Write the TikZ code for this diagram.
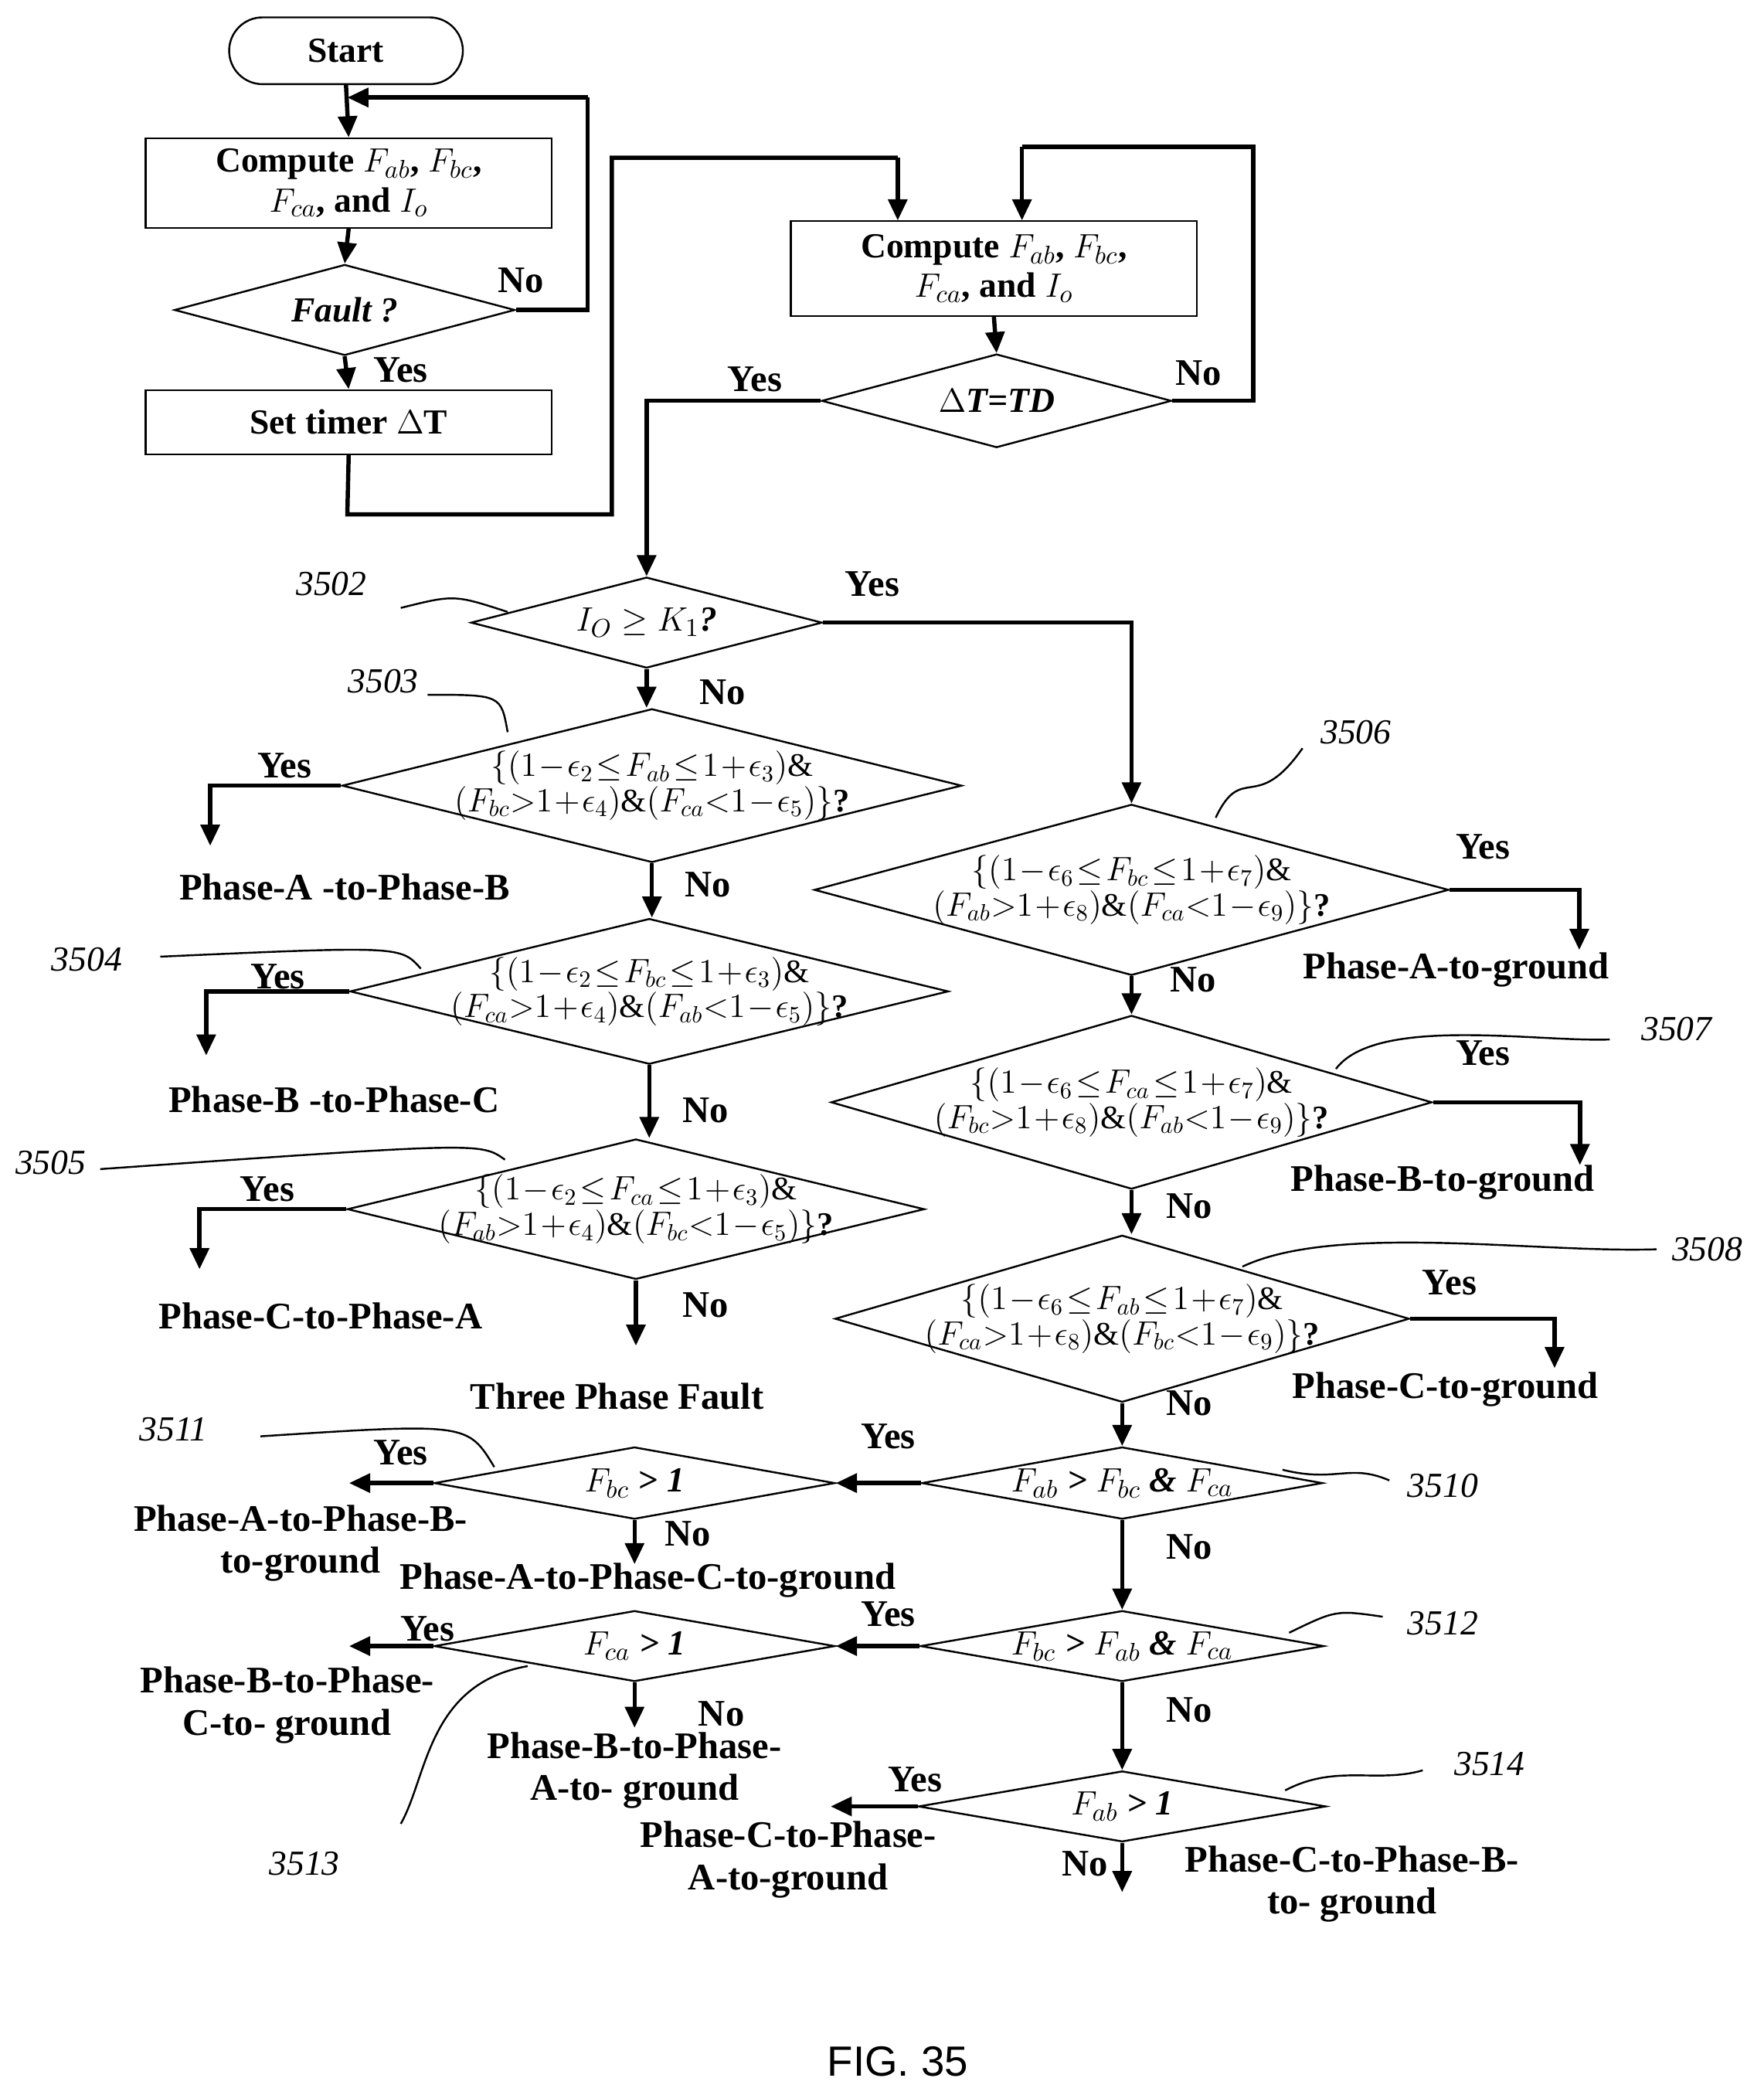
\documentclass[tikz,border=0pt]{standalone}
\usepackage{fontspec}
\setmainfont{Liberation Serif}
\newfontfamily\figfont{Liberation Sans}
\usetikzlibrary{shapes.geometric,arrows.meta}
\newcommand\tgtmath{\medmuskip=1mu\relax\thickmuskip=1.5mu\relax}
\begin{document}
\begin{tikzpicture}[x=0.02cm,y=-0.02cm,
  every node/.style={font=\fontsize{15}{17}\selectfont\bfseries},
  box/.style={draw,line width=0.8pt,inner sep=0pt},
  dia/.style={draw,diamond,line width=0.8pt,inner sep=0pt},
  ln/.style={line width=1.8pt},
  arr/.style={ln,-{Triangle[length=9pt,width=8pt]}},
  lab/.style={font=\fontsize{16}{18}\selectfont\bfseries},
  dt/.style={font=\fontsize{14}{15}\selectfont\bfseries,align=center,execute at begin node=\tgtmath},
  hw/.style={font=\fontsize{15}{17}\selectfont\itshape},
  lead/.style={line width=0.8pt}]
\useasboundingbox (0,0) rectangle (1320,1568);
% top left
\node[box,rounded corners=0.5cm,minimum width=3.5cm,minimum height=1cm] (start) at (259,38) {Start};
\node[box,minimum width=6.08cm,minimum height=1.34cm,align=center] (c1) at (261,137) {Compute $F_{ab}$, $F_{bc}$,\\ $F_{ca}$, and $I_o$};
\node[dia,minimum width=5.1cm,minimum height=1.36cm] (f) at (258,232) {};
\node at (f) {\itshape Fault ?};
\node[box,minimum width=6.08cm,minimum height=0.96cm] (st) at (261,316) {Set timer $\Delta$T};
\coordinate (lp1) at (440,73);
\coordinate (lp2) at (260,73);
\draw[arr] (start.south) -- (c1.north);
\draw[arr] (c1.south) -- (f.north);
\draw[arr] (f.south) -- (st.north);
\draw[ln] (f.east) -- (440,232) -- (lp1);
\draw[arr] (lp1) -- (lp2);
\node[lab] at (390,210) {No};
\node[lab] at (300,277) {Yes};
% second compute
\node[box,minimum width=6.08cm,minimum height=1.42cm,align=center] (c2) at (744,201) {Compute $F_{ab}$, $F_{bc}$,\\ $F_{ca}$, and $I_o$};
\draw[ln] (st.south) -- (260,385) -- (458,385) -- (458,118) -- (672,118);
\draw[arr] (672,118) -- (672,165);
\node[dia,minimum width=5.24cm,minimum height=1.4cm] (td) at (746,300) {};
\node at (td) {\itshape $\Delta$T=TD};
\draw[arr] (c2.south) -- (td.north);
\draw[ln] (td.east) -- (938,300) -- (938,110) -- (765,110);
\draw[arr] (765,110) -- (765,165);
\node[lab] at (897,279) {No};
\node[lab] at (565,284) {Yes};
% Io
\node[dia,minimum width=5.26cm,minimum height=1.36cm] (d2) at (484,466) {};
\node at (d2) {\itshape $I_O \geq K_1$?};
\draw[arr] (td.west) -| (d2.north);
\node[lab] at (653,437) {Yes};
% left column
\node[dia,minimum width=9.28cm,minimum height=2.3cm] (d3) at (488,588) {};
\node[dt] at (d3) {$\{(1-\epsilon_2 \le F_{ab} \le 1+\epsilon_3)\&$\\$(F_{bc}{>}1+\epsilon_4)\&(F_{ca}{<}1-\epsilon_5)\}$?};
\draw[arr] (d2.south) -- (d2.south |- d3.north);
\node[lab] at (541,518) {No};
\node[dia,minimum width=8.96cm,minimum height=2.18cm] (d4) at (486,742) {};
\node[dt] at (d4) {$\{(1-\epsilon_2 \le F_{bc} \le 1+\epsilon_3)\&$\\$(F_{ca}{>}1+\epsilon_4)\&(F_{ab}{<}1-\epsilon_5)\}$?};
\draw[arr] (d3.south) -- (d3.south |- d4.north);
\node[lab] at (530,662) {No};
\node[dia,minimum width=8.64cm,minimum height=2.1cm] (d5) at (476,905) {};
\node[dt] at (d5) {$\{(1-\epsilon_2 \le F_{ca} \le 1+\epsilon_3)\&$\\$(F_{ab}{>}1+\epsilon_4)\&(F_{bc}{<}1-\epsilon_5)\}$?};
\draw[arr] (d4.south) -- (d4.south |- d5.north);
\node[lab] at (528,831) {No};
\node[lab] (t3) at (462,1045) {Three Phase Fault};
\draw[arr] (d5.south) -- ++(0,49);
\node[lab] at (528,977) {No};
% left yes branches
\node[lab] (pab) at (258,664) {Phase-A -to-Phase-B};
\draw[arr] (d3.west) -- ++(-98,0) -- ++(0,45);
\node[lab] at (213,573) {Yes};
\node[lab] (pbc) at (250,823) {Phase-B -to-Phase-C};
\draw[arr] (d4.west) -- ++(-107,0) -- ++(0,48);
\node[lab] at (208,731) {Yes};
\node[lab] (pca) at (240,985) {Phase-C-to-Phase-A};
\draw[arr] (d5.west) -- ++(-110,0) -- ++(0,45);
\node[lab] at (200,890) {Yes};
% right column
\node[dia,minimum width=9.5cm,minimum height=2.56cm] (d6) at (847,666) {};
\node[dt] at (d6) {$\{(1-\epsilon_6 \le F_{bc} \le 1+\epsilon_7)\&$\\$(F_{ab}{>}1+\epsilon_8)\&(F_{ca}{<}1-\epsilon_9)\}$?};
\draw[arr] (d2.east) -| (d6.north);
\draw[arr] (d6.east) -- ++(97,0) -- ++(0,45);
\node[lab] at (1110,634) {Yes};
\node[lab] at (1090,726) {Phase-A-to-ground};
\node[dia,minimum width=9cm,minimum height=2.6cm] (d7) at (847,825) {};
\node[dt] at (d7) {$\{(1-\epsilon_6 \le F_{ca} \le 1+\epsilon_7)\&$\\$(F_{bc}{>}1+\epsilon_8)\&(F_{ab}{<}1-\epsilon_9)\}$?};
\draw[arr] (d6.south) -- (d7.north);
\node[lab] at (893,733) {No};
\draw[arr] (d7.east) -- ++(110,0) -- ++(0,47);
\node[lab] at (1110,788) {Yes};
\node[lab] at (1080,885) {Phase-B-to-ground};
\node[dia,minimum width=8.6cm,minimum height=2.5cm] (d8) at (840,987) {};
\node[dt] at (d8) {$\{(1-\epsilon_6 \le F_{ab} \le 1+\epsilon_7)\&$\\$(F_{ca}{>}1+\epsilon_8)\&(F_{bc}{<}1-\epsilon_9)\}$?};
\draw[arr] (d7.south) -- (d7.south |- d8.north);
\node[lab] at (890,903) {No};
\draw[arr] (d8.east) -- ++(108,0) -- ++(0,37);
\node[lab] at (1085,960) {Yes};
\node[lab] at (1082,1040) {Phase-C-to-ground};
% lower
\node[dia,minimum width=6cm,minimum height=1.08cm] (d10) at (840,1110) {};
\node at (d10) {\itshape $F_{ab}$ > $F_{bc}$ \& $F_{ca}$};
\draw[arr] (d8.south) -- (d10.north);
\node[lab] at (890,1050) {No};
\node[dia,minimum width=6cm,minimum height=1.08cm] (d11) at (475,1110) {};
\node at (d11) {\itshape $F_{bc}$ > 1};
\draw[arr] (d10.west) -- (d11.east);
\node[lab] at (665,1075) {Yes};
\draw[arr] (d11.west) -- ++(-63,0);
\node[lab] at (300,1087) {Yes};
\node[lab,align=center] at (225,1155) {Phase-A-to-Phase-B-\\to-ground};
\draw[arr] (d11.south) -- ++(0,33);
\node[lab] at (515,1148) {No};
\node[lab] at (485,1183) {Phase-A-to-Phase-C-to-ground};
\node[dia,minimum width=6.04cm,minimum height=1.06cm] (d12) at (840,1232) {};
\node at (d12) {\itshape $F_{bc}$ > $F_{ab}$ \& $F_{ca}$};
\draw[arr] (d10.south) -- (d12.north);
\node[lab] at (890,1158) {No};
\node[dia,minimum width=6cm,minimum height=1.06cm] (d13) at (475,1232) {};
\node at (d13) {\itshape $F_{ca}$ > 1};
\draw[arr] (d12.west) -- (d13.east);
\node[lab] at (665,1208) {Yes};
\draw[arr] (d13.west) -- ++(-63,0);
\node[lab] at (320,1219) {Yes};
\node[lab,align=center] at (215,1276) {Phase-B-to-Phase-\\C-to- ground};
\draw[arr] (d13.south) -- ++(0,34);
\node[lab] at (540,1283) {No};
\node[lab,align=center] at (475,1325) {Phase-B-to-Phase-\\A-to- ground};
\node[dia,minimum width=6.1cm,minimum height=1.06cm] (d14) at (840,1352) {};
\node at (d14) {\itshape $F_{ab}$ > 1};
\draw[arr] (d12.south) -- (d14.north);
\node[lab] at (890,1280) {No};
\draw[arr] (d14.west) -- ++(-65,0);
\node[lab] at (685,1332) {Yes};
\node[lab,align=center] at (590,1392) {Phase-C-to-Phase-\\A-to-ground};
\draw[arr] (d14.south) -- ++(0,37);
\node[lab] at (812,1395) {No};
\node[lab,align=center] at (1012,1410) {Phase-C-to-Phase-B-\\to- ground};
% reference numerals
\node[hw] at (248,437) {3502};
\draw[lead] (300,455) .. controls (340,445) .. (380,458);
\node[hw] at (287,510) {3503};
\draw[lead] (320,520) .. controls (375,520) .. (380,548);
\node[hw] at (65,718) {3504};
\draw[lead] (120,716) .. controls (300,708) .. (315,725);
\node[hw] at (38,870) {3505};
\draw[lead] (75,875) .. controls (360,855) .. (378,868);
\node[hw] at (1015,548) {3506};
\draw[lead] (910,612) .. controls (930,570) and (940,610) .. (975,560);
\node[hw] at (1255,770) {3507};
\draw[lead] (1000,800) .. controls (1030,760) and (1150,780) .. (1205,778);
\node[hw] at (1278,935) {3508};
\draw[lead] (930,948) .. controls (1000,915) and (1150,938) .. (1240,935);
\node[hw] at (1080,1112) {3510};
\draw[lead] (960,1100) .. controls (1000,1110) and (1010,1095) .. (1040,1108);
\node[hw] at (130,1070) {3511};
\draw[lead] (195,1075) .. controls (350,1065) .. (370,1098);
\node[hw] at (1080,1215) {3512};
\draw[lead] (965,1222) .. controls (1000,1205) .. (1035,1210);
\node[hw] at (228,1395) {3513};
\draw[lead] (395,1247) .. controls (320,1260) and (320,1330) .. (300,1365);
\node[hw] at (1115,1320) {3514};
\draw[lead] (962,1340) .. controls (1000,1320) and (1030,1335) .. (1065,1325);
\node[font=\figfont\fontsize{18}{20}\selectfont] at (672,1543) {FIG. 35};
\end{tikzpicture}
\end{document}
